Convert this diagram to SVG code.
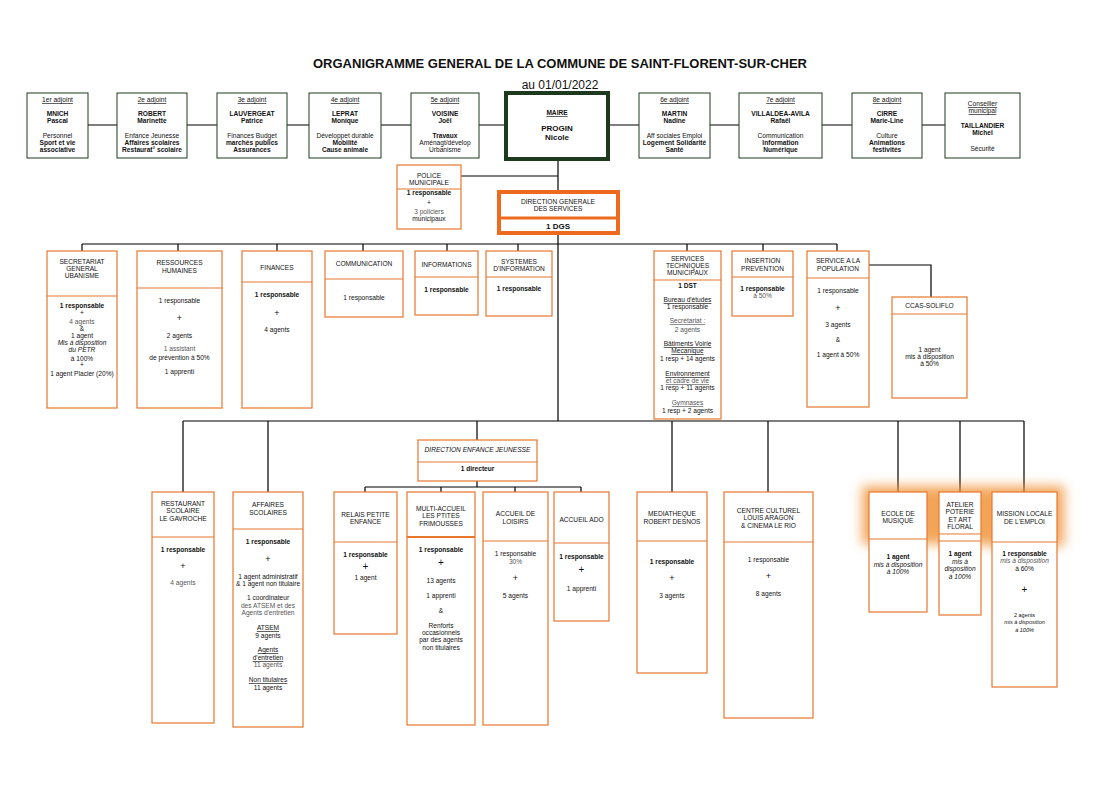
<svg xmlns="http://www.w3.org/2000/svg" width="1119" height="788" viewBox="0 0 1119 788">
<defs>
<style>
text{font-family:"Liberation Sans",Arial,sans-serif;font-size:6.6px;text-anchor:middle;fill:#111}
.b{font-weight:bold}.i{font-style:italic}.u{text-decoration:underline}.g{fill:#555}
.top{fill:#fff;stroke:#1e3a1e;stroke-width:1}
.box{fill:#fff;stroke:#e8772e;stroke-width:1.2}
.div{stroke:#e8772e;stroke-width:1.2}
.ln{stroke:#000;stroke-width:1.2;fill:none}
</style>
<filter id="glow" x="-50%" y="-50%" width="200%" height="200%"><feGaussianBlur stdDeviation="6"/></filter>
</defs>
<rect width="1119" height="788" fill="#fff"/>
<text x="560" y="68" class="b" style="font-size:13px">ORGANIGRAMME GENERAL DE LA COMMUNE DE SAINT-FLORENT-SUR-CHER</text>
<text x="560" y="89" style="font-size:12px">au 01/01/2022</text>

<g id="connectors" class="ln">
<line x1="88" y1="125" x2="945" y2="125"/>
<line x1="558" y1="160" x2="558" y2="190"/>
<line x1="461" y1="176" x2="558" y2="176"/>
<line x1="558" y1="234" x2="558" y2="421"/>
<line x1="82" y1="244" x2="837" y2="244"/>
<path d="M82 244V251M178 244V251M277 244V251M363 244V251M447 244V251M518 244V251M687 244V251M763 244V251M837 244V251"/>
<path d="M869 265H931V297"/>
<line x1="183" y1="421" x2="1024" y2="421"/>
<path d="M183 421V492M268 421V492M477 421V440M672 421V492M768 421V492M898 421V492M960 421V492M1024 421V492"/>
<path d="M477 481V487M365 487H581M365 487V492M441 487V492M515 487V492M581 487V492"/>
</g>

<g id="glows" filter="url(#glow)" fill="#f0963c" opacity="0.85">
<rect x="862" y="486" width="72" height="58"/>
<rect x="933" y="486" width="54" height="58"/>
<rect x="985" y="486" width="79" height="60"/>
</g>

<g id="adj1"><rect class="top" x="27" y="93" width="61" height="65"/><text x="57.5" y="102" class="u">1er adjoint</text><text x="57.5" y="116" class="b">MNICH</text><text x="57.5" y="123" class="b">Pascal</text><text x="57.5" y="138">Personnel</text><text x="57.5" y="145" class="b">Sport et vie</text><text x="57.5" y="152" class="b">associative</text></g>
<g id="adj2"><rect class="top" x="117" y="93" width="70" height="65"/><text x="152" y="102" class="u">2e adjoint</text><text x="152" y="116" class="b">ROBERT</text><text x="152" y="123" class="b">Marinette</text><text x="152" y="138">Enfance Jeunesse</text><text x="152" y="145" class="b">Affaires scolaires</text><text x="152" y="152" class="b">Restaurat° scolaire</text></g>
<g id="adj3"><rect class="top" x="217" y="93" width="70" height="65"/><text x="252" y="102" class="u">3e adjoint</text><text x="252" y="116" class="b">LAUVERGEAT</text><text x="252" y="123" class="b">Patrice</text><text x="252" y="138">Finances Budget</text><text x="252" y="145" class="b">marchés publics</text><text x="252" y="152" class="b">Assurances</text></g>
<g id="adj4"><rect class="top" x="309" y="93" width="72" height="65"/><text x="345" y="102" class="u">4e adjoint</text><text x="345" y="116" class="b">LEPRAT</text><text x="345" y="123" class="b">Monique</text><text x="345" y="138">Développet durable</text><text x="345" y="145" class="b">Mobilité</text><text x="345" y="152" class="b">Cause animale</text></g>
<g id="adj5"><rect class="top" x="411" y="93" width="68" height="65"/><text x="445" y="102" class="u">5e adjoint</text><text x="445" y="116" class="b">VOISINE</text><text x="445" y="123" class="b">Joël</text><text x="445" y="138" class="b">Travaux</text><text x="445" y="145">Aménagt/dévelop</text><text x="445" y="152">Urbanisme</text></g>
<g id="maire"><rect x="506" y="93" width="102" height="66" fill="#fff" stroke="#1e3a1e" stroke-width="4"/><text x="557" y="115" class="b u">MAIRE</text><text x="557" y="131" class="b" style="font-size:8px">PROGIN</text><text x="557" y="140" class="b" style="font-size:8px">Nicole</text></g>
<g id="adj6"><rect class="top" x="639" y="93" width="71" height="65"/><text x="674.5" y="102" class="u">6e adjoint</text><text x="674.5" y="116" class="b">MARTIN</text><text x="674.5" y="123" class="b">Nadine</text><text x="674.5" y="138">Aff sociales Emploi</text><text x="674.5" y="145" class="b">Logement Solidarité</text><text x="674.5" y="152" class="b">Santé</text></g>
<g id="adj7"><rect class="top" x="739" y="93" width="83" height="65"/><text x="780.5" y="102" class="u">7e adjoint</text><text x="780.5" y="116" class="b">VILLALDEA-AVILA</text><text x="780.5" y="123" class="b">Rafaël</text><text x="780.5" y="138">Communication</text><text x="780.5" y="145" class="b">Information</text><text x="780.5" y="152" class="b">Numérique</text></g>
<g id="adj8"><rect class="top" x="852" y="93" width="70" height="65"/><text x="887" y="102" class="u">8e adjoint</text><text x="887" y="116" class="b">CIRRE</text><text x="887" y="123" class="b">Marie-Line</text><text x="887" y="138">Culture</text><text x="887" y="145" class="b">Animations</text><text x="887" y="152" class="b">festivités</text></g>
<g id="conseiller"><rect class="top" x="945" y="93" width="75" height="65"/><text x="982.5" y="106" class="u">Conseiller</text><text x="982.5" y="113" class="u">municipal</text><text x="982.5" y="128" class="b">TAILLANDIER</text><text x="982.5" y="135" class="b">Michel</text><text x="982.5" y="151">Sécurité</text></g>

<g id="police"><rect class="box" x="397" y="165" width="64" height="64"/><line class="div" x1="397" y1="189" x2="461" y2="189"/><text x="429" y="178">POLICE</text><text x="429" y="185">MUNICIPALE</text><text x="429" y="195" class="b">1 responsable</text><text x="429" y="205">+</text><text x="429" y="214" class="g">3 policiers</text><text x="429" y="221">municipaux</text></g>
<g id="dgs"><rect x="499" y="192" width="119" height="41" fill="#fff" stroke="#ee6a1e" stroke-width="4"/><line x1="499" y1="218" x2="618" y2="218" stroke="#ee6a1e" stroke-width="3"/><text x="558" y="204">DIRECTION  GENERALE</text><text x="558" y="211">DES SERVICES</text><text x="558" y="229" class="b" style="font-size:8px">1 DGS</text></g>

<g id="secretariat"><rect class="box" x="47" y="251" width="70" height="157"/><line class="div" x1="47" y1="296" x2="117" y2="296"/><text x="82" y="264">SECRETARIAT</text><text x="82" y="271">GENERAL</text><text x="82" y="278">UBANISME</text><text x="82" y="308" class="b">1 responsable</text><text x="82" y="315">+</text><text x="82" y="324" class="g">4 agents</text><text x="82" y="331">&amp;</text><text x="82" y="338">1 agent</text><text x="82" y="345" class="i">Mis à disposition</text><text x="82" y="352" class="i">du PETR</text><text x="82" y="361">à 100%</text><text x="82" y="367">+</text><text x="82" y="376">1 agent Placier (20%)</text></g>
<g id="rh"><rect class="box" x="137" y="251" width="85" height="157"/><line class="div" x1="137" y1="288" x2="222" y2="288"/><text x="179.5" y="265">RESSOURCES</text><text x="179.5" y="273">HUMAINES</text><text x="179.5" y="303">1 responsable</text><text x="179.5" y="321" style="font-size:9px">+</text><text x="179.5" y="338">2 agents</text><text x="179.5" y="351" class="g">1 assistant</text><text x="179.5" y="360">de prévention à 50%</text><text x="179.5" y="374">1 apprenti</text></g>
<g id="finances"><rect class="box" x="242" y="251" width="70" height="157"/><line class="div" x1="242" y1="282" x2="312" y2="282"/><text x="277" y="270">FINANCES</text><text x="277" y="297" class="b">1 responsable</text><text x="277" y="316" style="font-size:9px">+</text><text x="277" y="332">4 agents</text></g>
<g id="communication"><rect class="box" x="325" y="251" width="78" height="66"/><line class="div" x1="325" y1="279" x2="403" y2="279"/><text x="364" y="266">COMMUNICATION</text><text x="364" y="300">1 responsable</text></g>
<g id="informations"><rect class="box" x="415" y="251" width="63" height="64"/><line class="div" x1="415" y1="277" x2="478" y2="277"/><text x="446.5" y="267">INFORMATIONS</text><text x="446.5" y="292" class="b">1 responsable</text></g>
<g id="systemes"><rect class="box" x="486" y="251" width="66" height="65"/><line class="div" x1="486" y1="277" x2="552" y2="277"/><text x="519" y="264">SYSTEMES</text><text x="519" y="271">D'INFORMATION</text><text x="519" y="291" class="b">1 responsable</text></g>
<g id="st"><rect class="box" x="654" y="251" width="67" height="168"/><line class="div" x1="654" y1="280" x2="721" y2="280"/><text x="687.5" y="261">SERVICES</text><text x="687.5" y="268">TECHNIQUES</text><text x="687.5" y="275">MUNICIPAUX</text><text x="687.5" y="288" class="b">1 DST</text><text x="687.5" y="302" class="u">Bureau d'études</text><text x="687.5" y="309">1 responsable</text><text x="687.5" y="323" class="u g">Secrétariat :</text><text x="687.5" y="332" class="g">2 agents</text><text x="687.5" y="346" class="u">Bâtiments Voirie</text><text x="687.5" y="353" class="u">Mecanique</text><text x="687.5" y="361">1 resp + 14 agents</text><text x="687.5" y="376" class="u">Environnement</text><text x="687.5" y="383" class="u g">et cadre de vie</text><text x="687.5" y="390">1 resp + 11 agents</text><text x="687.5" y="405" class="u g">Gymnases</text><text x="687.5" y="413">1 resp + 2 agents</text></g>
<g id="insertion"><rect class="box" x="732" y="251" width="61" height="65"/><line class="div" x1="732" y1="277" x2="793" y2="277"/><text x="762.5" y="263">INSERTION</text><text x="762.5" y="271">PREVENTION</text><text x="762.5" y="291" class="b">1 responsable</text><text x="762.5" y="298" class="g">à 50%</text></g>
<g id="population"><rect class="box" x="807" y="251" width="62" height="156"/><line class="div" x1="807" y1="278" x2="869" y2="278"/><text x="838" y="263">SERVICE A LA</text><text x="838" y="271">POPULATION</text><text x="838" y="293">1 responsable</text><text x="838" y="311" style="font-size:9px">+</text><text x="838" y="327">3 agents</text><text x="838" y="342">&amp;</text><text x="838" y="357">1 agent à 50%</text></g>
<g id="ccas"><rect class="box" x="892" y="297" width="75" height="101"/><line class="div" x1="892" y1="314" x2="967" y2="314"/><text x="929.5" y="308">CCAS-SOLIFLO</text><text x="929.5" y="352">1 agent</text><text x="929.5" y="359">mis à disposition</text><text x="929.5" y="366">à 50%</text></g>

<g id="dej"><rect class="box" x="418" y="440" width="119" height="41"/><line class="div" x1="418" y1="462" x2="537" y2="462"/><text x="477.5" y="452" class="i">DIRECTION ENFANCE JEUNESSE</text><text x="477.5" y="471" class="b">1 directeur</text></g>
<g id="restaurant"><rect class="box" x="152" y="492" width="62" height="231"/><line class="div" x1="152" y1="537" x2="214" y2="537"/><text x="183" y="506">RESTAURANT</text><text x="183" y="513">SCOLAIRE</text><text x="183" y="521">LE GAVROCHE</text><text x="183" y="552" class="b">1 responsable</text><text x="183" y="569" style="font-size:9px">+</text><text x="183" y="585" class="g">4 agents</text></g>
<g id="affaires"><rect class="box" x="233" y="492" width="70" height="235"/><line class="div" x1="233" y1="529" x2="303" y2="529"/><text x="268" y="507">AFFAIRES</text><text x="268" y="515">SCOLAIRES</text><text x="268" y="544" class="b">1 responsable</text><text x="268" y="562" style="font-size:9px">+</text><text x="268" y="579">1 agent administratif</text><text x="268" y="586">&amp; 1 agent non titulaire</text><text x="268" y="600">1 coordinateur</text><text x="268" y="608" class="g">des ATSEM et des</text><text x="268" y="615" class="g">Agents d'entretien</text><text x="268" y="630" class="u">ATSEM</text><text x="268" y="638">9 agents</text><text x="268" y="652" class="u">Agents</text><text x="268" y="660" class="u">d'entretien</text><text x="268" y="667" class="g">11 agents</text><text x="268" y="682" class="u">Non titulaires</text><text x="268" y="690">11 agents</text></g>
<g id="relais"><rect class="box" x="334" y="492" width="63" height="142"/><line class="div" x1="334" y1="542" x2="397" y2="542"/><text x="365.5" y="517">RELAIS PETITE</text><text x="365.5" y="524">ENFANCE</text><text x="365.5" y="557" class="b">1 responsable</text><text x="365.5" y="570" style="font-size:10px">+</text><text x="365.5" y="580">1 agent</text></g>
<g id="multi"><rect class="box" x="407" y="492" width="68" height="233"/><line x1="407" y1="537" x2="475" y2="537" stroke="#e8772e" stroke-width="2.2"/><text x="441" y="511">MULTI-ACCUEIL</text><text x="441" y="518">LES PTITES</text><text x="441" y="526">FRIMOUSSES</text><text x="441" y="552" class="b">1 responsable</text><text x="441" y="566" style="font-size:10px">+</text><text x="441" y="583">13 agents</text><text x="441" y="598">1 apprenti</text><text x="441" y="613">&amp;</text><text x="441" y="628">Renforts</text><text x="441" y="635">occasionnels</text><text x="441" y="642">par des agents</text><text x="441" y="650">non titulaires</text></g>
<g id="loisirs"><rect class="box" x="483" y="492" width="65" height="233"/><line class="div" x1="483" y1="541" x2="548" y2="541"/><text x="515.5" y="516">ACCUEIL DE</text><text x="515.5" y="524">LOISIRS</text><text x="515.5" y="556">1 responsable</text><text x="515.5" y="564" class="g">30%</text><text x="515.5" y="581" style="font-size:9px">+</text><text x="515.5" y="598">5 agents</text></g>
<g id="ado"><rect class="box" x="554" y="492" width="55" height="129"/><line class="div" x1="554" y1="543" x2="609" y2="543"/><text x="581.5" y="522">ACCUEIL   ADO</text><text x="581.5" y="559" class="b">1 responsable</text><text x="581.5" y="573" style="font-size:10px">+</text><text x="581.5" y="591">1 apprenti</text></g>
<g id="mediatheque"><rect class="box" x="637" y="492" width="70" height="181"/><line class="div" x1="637" y1="541" x2="707" y2="541"/><text x="672" y="516">MEDIATHEQUE</text><text x="672" y="524">ROBERT DESNOS</text><text x="672" y="564" class="b">1 responsable</text><text x="672" y="581" style="font-size:9px">+</text><text x="672" y="598">3 agents</text></g>
<g id="centre"><rect class="box" x="724" y="492" width="89" height="226"/><line class="div" x1="724" y1="542" x2="813" y2="542"/><text x="768.5" y="513">CENTRE CULTUREL</text><text x="768.5" y="520">LOUIS ARAGON</text><text x="768.5" y="528">&amp; CINEMA LE RIO</text><text x="768.5" y="562">1 responsable</text><text x="768.5" y="579" style="font-size:9px">+</text><text x="768.5" y="596">8 agents</text></g>
<g id="ecole"><rect class="box" x="869" y="492" width="58" height="120"/><rect x="875" y="500" width="44" height="34" fill="#fff"/><line class="div" x1="869" y1="539" x2="927" y2="539"/><text x="898" y="516">ECOLE DE</text><text x="898" y="523">MUSIQUE</text><text x="898" y="559" class="b">1 agent</text><text x="898" y="567" class="i">mis à disposition</text><text x="898" y="574" class="i">à 100%</text></g>
<g id="atelier"><rect class="box" x="939" y="492" width="42" height="123"/><rect x="942" y="496" width="36" height="36" fill="#fff"/><line class="div" x1="939" y1="534" x2="981" y2="534"/><line class="div" x1="939" y1="541" x2="981" y2="541"/><text x="960" y="507">ATELIER</text><text x="960" y="514">POTERIE</text><text x="960" y="522">ET ART</text><text x="960" y="529">FLORAL</text><text x="960" y="556" class="b">1 agent</text><text x="960" y="564" class="i">mis à</text><text x="960" y="571" class="i">disposition</text><text x="960" y="579" class="i">à 100%</text></g>
<g id="mission"><rect class="box" x="992" y="492" width="65" height="195"/><rect x="998" y="500" width="53" height="37" fill="#fff"/><line class="div" x1="992" y1="542" x2="1057" y2="542"/><text x="1024.5" y="516">MISSION LOCALE</text><text x="1024.5" y="524">DE L'EMPLOI</text><text x="1024.5" y="556" class="b">1 responsable</text><text x="1024.5" y="563" class="i g">mis à disposition</text><text x="1024.5" y="571">à 60%</text><text x="1024.5" y="593" style="font-size:10px">+</text><text x="1024.5" y="617" style="font-size:5.5px">2 agents</text><text x="1024.5" y="624" class="i" style="font-size:5.5px">mis à disposition</text><text x="1024.5" y="632" class="i" style="font-size:5.5px">à 100%</text></g>
</svg>
